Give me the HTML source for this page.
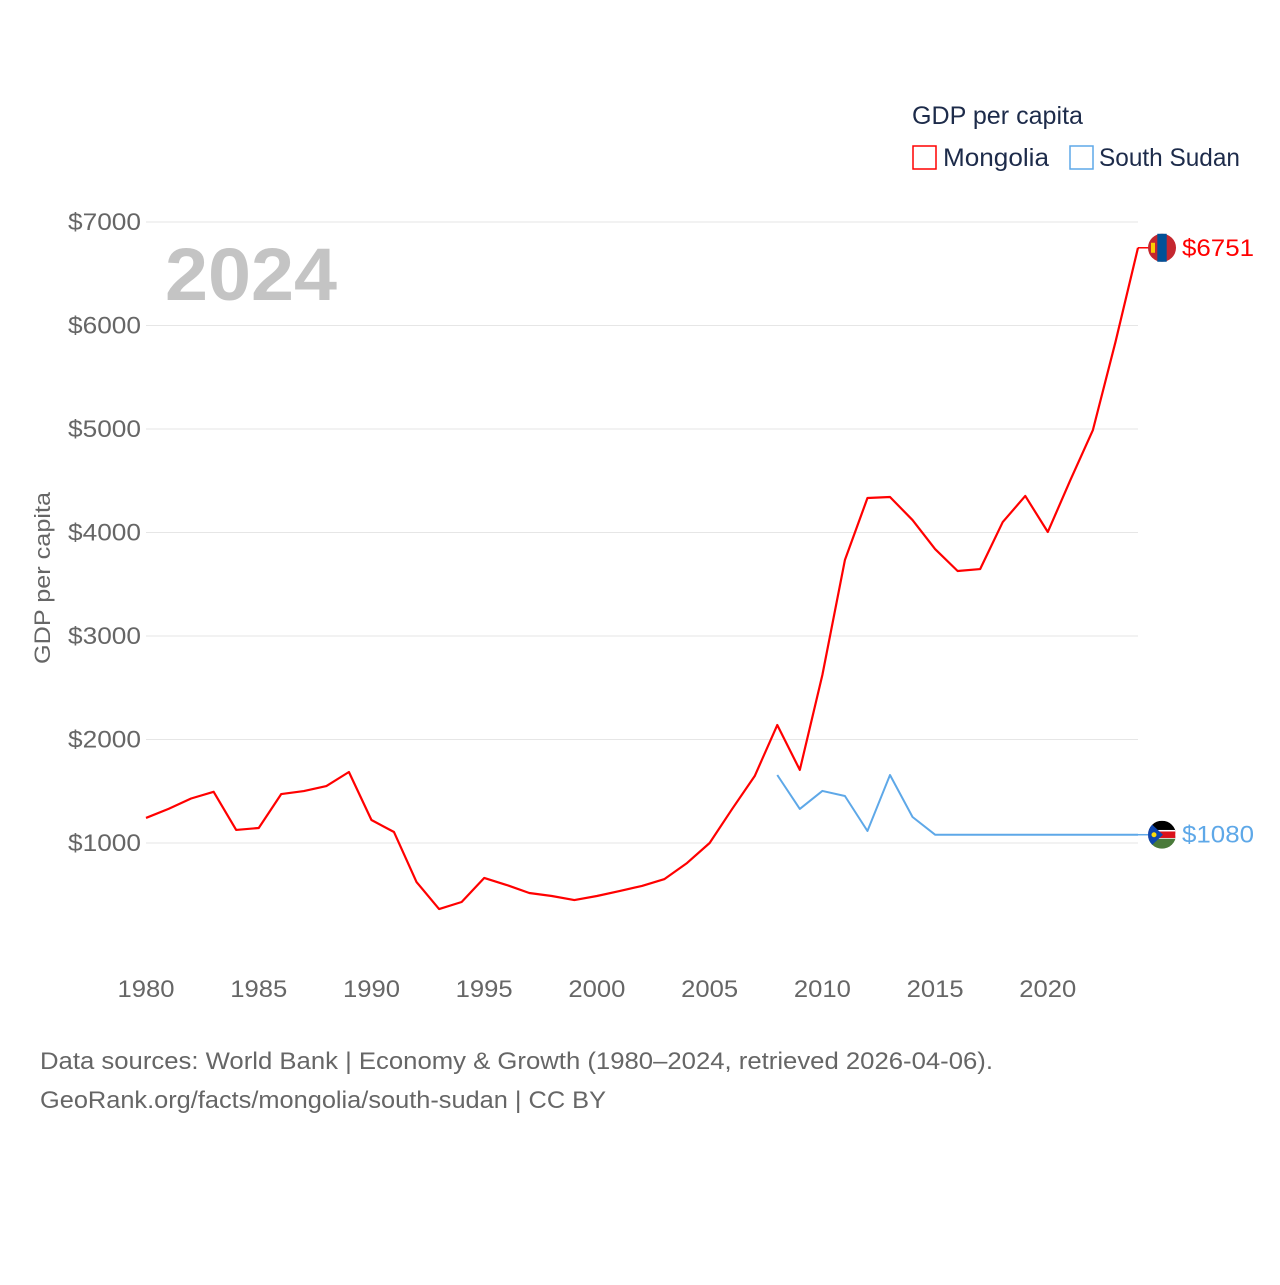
<!DOCTYPE html>
<html><head><meta charset="utf-8"><style>
body{margin:0;background:#fff;}
svg text{font-family:"Liberation Sans",sans-serif;}
</style></head><body>
<svg id="chart" width="1280" height="1280" viewBox="0 0 1280 1280" xmlns="http://www.w3.org/2000/svg">
<rect width="1280" height="1280" fill="#fff"/>
<g id="grid"></g>
<g id="yticks"></g>
<g id="xticks"></g>
<text x="165" y="300" font-size="74" font-weight="bold" fill="#c4c4c4" textLength="172" lengthAdjust="spacingAndGlyphs">2024</text>
<text transform="translate(50,578) rotate(-90)" text-anchor="middle" font-size="22" fill="#666" textLength="172" lengthAdjust="spacingAndGlyphs">GDP per capita</text>
<g>
<text x="912" y="124" font-size="25" fill="#1d2b4a" textLength="171" lengthAdjust="spacingAndGlyphs">GDP per capita</text>
<rect x="913" y="146" width="23" height="23" fill="none" stroke="#f00" stroke-width="1.5"/>
<text x="943" y="166" font-size="25" fill="#1d2b4a" textLength="106" lengthAdjust="spacingAndGlyphs">Mongolia</text>
<rect x="1070" y="146" width="23" height="23" fill="none" stroke="#5ea8e8" stroke-width="1.5"/>
<text x="1099" y="166" font-size="25" fill="#1d2b4a" textLength="141" lengthAdjust="spacingAndGlyphs">South Sudan</text>
</g>
<g id="series"></g>
<text x="40" y="1069" font-size="24" fill="#666" textLength="953" lengthAdjust="spacingAndGlyphs">Data sources: World Bank | Economy &amp; Growth (1980–2024, retrieved 2026-04-06).</text>
<text x="40" y="1108" font-size="24" fill="#666" textLength="566" lengthAdjust="spacingAndGlyphs">GeoRank.org/facts/mongolia/south-sudan | CC BY</text>
</svg>
<script>
const mnYears=[1980,1981,1982,1983,1984,1985,1986,1987,1988,1989,1990,1991,1992,1993,1994,1995,1996,1997,1998,1999,2000,2001,2002,2003,2004,2005,2006,2007,2008,2009,2010,2011,2012,2013,2014,2015,2016,2017,2018,2019,2020,2021,2022,2023,2024];
const mnValues=[1242,1330,1430,1495,1126,1145,1473,1502,1550,1686,1222,1106,623,362,430,662,594,517,488,449,488,536,585,652,807,1000,1329,1647,2140,1706,2623,3734,4333,4343,4120,3840,3628,3647,4101,4353,4005,4507,4990,5840,6751];
const ssYears=[2008,2009,2010,2011,2012,2013,2014,2015,2016,2017,2018,2019,2020,2021,2022,2023,2024];
const ssValues=[1657,1329,1503,1454,1116,1657,1251,1080,1080,1080,1080,1080,1080,1080,1080,1080,1080];
const yTicks=[1000,2000,3000,4000,5000,6000,7000];
const xTicks=[1980,1985,1990,1995,2000,2005,2010,2015,2020];
const NS='http://www.w3.org/2000/svg';
const X=y=>146+(y-1980)*(1138-146)/44;
const Y=v=>946.5-v*(843-222)/6000;
function mk(tag,attrs,parent){const e=document.createElementNS(NS,tag);for(const k in attrs)e.setAttribute(k,attrs[k]);parent.appendChild(e);return e;}
const grid=document.getElementById('grid'),yt=document.getElementById('yticks'),xt=document.getElementById('xticks'),ser=document.getElementById('series');
yTicks.forEach(v=>{
 const l=mk('line',{x1:146,x2:1138,y1:Y(v),y2:Y(v),stroke:'#e6e6e6','stroke-width':1},grid);
 
 
 const t=mk('text',{x:141,y:Y(v)+8,'text-anchor':'end','font-size':24,fill:'#666',textLength:73,lengthAdjust:'spacingAndGlyphs'},yt);
 t.textContent='$'+v;
 
 
});
xTicks.forEach(y=>{
 const t=mk('text',{x:X(y),y:997,'text-anchor':'middle','font-size':24,fill:'#666',textLength:57,lengthAdjust:'spacingAndGlyphs'},xt);
 t.textContent=y;
 
 
});
function line(years,vals,color,w,name){
 const p=mk('polyline',{points:years.map((y,i)=>X(y)+','+Y(vals[i])).join(' '),fill:'none',stroke:color,'stroke-width':w,'stroke-linejoin':'round'},ser);
 
 
}
line(ssYears,ssValues,'#5ea8e8',2,'south-sudan-line');
line(mnYears,mnValues,'#f00',2.2,'mongolia-line');
function endLabel(vals,color,name,flag){
 const v=vals[vals.length-1],y=Y(v);
 const l=mk('line',{x1:1138,x2:1150,y1:y,y2:y,stroke:color,'stroke-width':1.5},ser);
 
 
 const g=mk('g',{},ser);
 
 
 flag(g,1162,y);
 const t=mk('text',{x:1182,y:y+8,'font-size':24,fill:color,textLength:72,lengthAdjust:'spacingAndGlyphs'},ser);
 t.textContent='$'+v;
 
 
}
endLabel(mnValues,'#f00','mongolia',(g,cx,cy)=>{
 mk('circle',{cx:cx,cy:cy,r:14,fill:'#c4272f'},g);
 mk('rect',{x:cx-4.7,y:cy-14,width:9.4,height:28,fill:'#015197'},g);
 mk('rect',{x:cx-11,y:cy-5,width:4,height:10,fill:'#f9cf02'},g);
});
endLabel(ssValues,'#5ea8e8','south-sudan',(g,cx,cy)=>{
 mk('clipPath',{id:'ssc'},g).appendChild(document.createElementNS(NS,'circle'));
 const c=g.querySelector('clipPath circle');c.setAttribute('cx',cx);c.setAttribute('cy',cy);c.setAttribute('r',14);
 const h=mk('g',{'clip-path':'url(#ssc)'},g);
 mk('rect',{x:cx-14,y:cy-14,width:28,height:10,fill:'#000'},h);
 mk('rect',{x:cx-14,y:cy-4,width:28,height:8,fill:'#da121a',stroke:'#fff','stroke-width':1.5},h);
 mk('rect',{x:cx-14,y:cy+4,width:28,height:10,fill:'#4a7a3a'},h);
 mk('polygon',{points:(cx-14)+','+(cy-14)+' '+(cx+1)+','+cy+' '+(cx-14)+','+(cy+14),fill:'#0f47af'},h);
 mk('circle',{cx:cx-8,cy:cy,r:2.5,fill:'#fcdd09'},h);
});
</script>
</body></html>
